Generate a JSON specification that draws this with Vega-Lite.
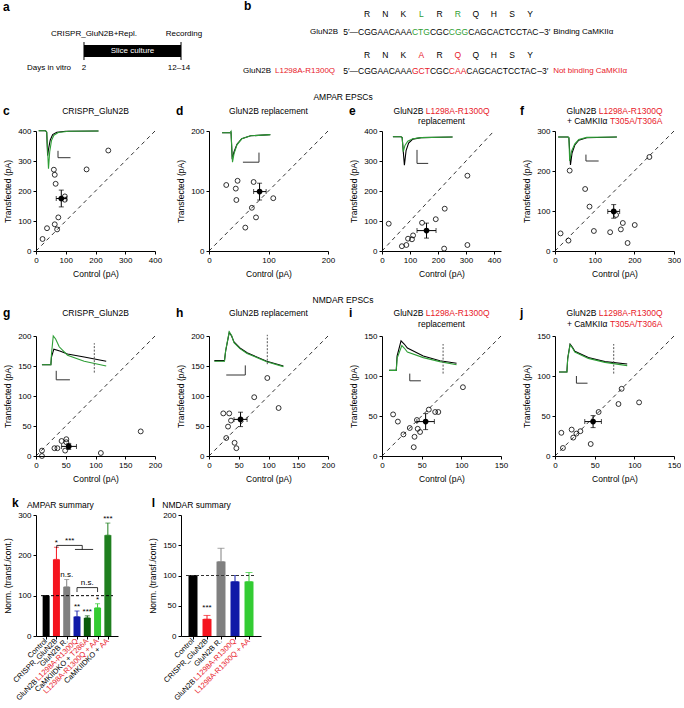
{
"$schema": "https://vega.github.io/schema/vega-lite/v6.json",
"autosize": {"type": "pad"},
"padding": {"left": 2, "top": 0, "right": 0, "bottom": 0},
"columns": 4,
"align": "each",
"bounds": "flush",
"spacing": {"row": 59, "column": 54},
"resolve": {"scale": {"color": "independent"}},
"config": {
  "font": "Liberation Sans",
  "view": {"stroke": null},
  "axis": {"grid": false, "domainColor": "#000", "tickColor": "#000", "labelColor": "#000", "titleColor": "#000", "labelFontSize": 8, "titleFontSize": 8.5, "titleFontWeight": "normal", "tickSize": 3, "labelPadding": 2, "labelFlush": false, "labelOverlap": false, "domainWidth": 1, "tickWidth": 1},
  "axisX": {"titlePadding": 5},
  "axisY": {"titlePadding": 5}
},
"datasets": {
  "c_pts": [{"x":22,"y":40},{"x":37,"y":76},{"x":60,"y":271},{"x":63,"y":254},{"x":66,"y":224},{"x":63,"y":89},{"x":71,"y":72},{"x":75,"y":112},{"x":97,"y":182},{"x":97,"y":171},{"x":170,"y":272},{"x":243,"y":335}],
  "c_tr": [{"s":"c","x":9,"y":401},{"s":"c","x":32,"y":401},{"s":"c","x":36,"y":396},{"s":"c","x":39,"y":318},{"s":"c","x":43,"y":345},{"s":"c","x":48,"y":370},{"s":"c","x":56,"y":388},{"s":"c","x":70,"y":396},{"s":"c","x":100,"y":399},{"s":"c","x":210,"y":400},{"s":"t","x":9,"y":401},{"s":"t","x":32,"y":401},{"s":"t","x":36,"y":396},{"s":"t","x":42,"y":274},{"s":"t","x":46,"y":330},{"s":"t","x":52,"y":368},{"s":"t","x":60,"y":386},{"s":"t","x":75,"y":395},{"s":"t","x":110,"y":399},{"s":"t","x":210,"y":400}],
  "c_sb": [{"o":0,"x":74,"y":334},{"o":1,"x":74,"y":311},{"o":2,"x":116,"y":311}],
  "d_pts": [{"x":29,"y":110},{"x":48,"y":117},{"x":45,"y":104},{"x":75,"y":115},{"x":46,"y":85},{"x":72,"y":72},{"x":79,"y":56},{"x":61,"y":39},{"x":108,"y":88}],
  "d_tr": [{"s":"c","x":22,"y":197},{"s":"c","x":36,"y":197},{"s":"c","x":37,"y":199},{"s":"c","x":39,"y":153},{"s":"c","x":42,"y":165},{"s":"c","x":47,"y":178},{"s":"c","x":55,"y":187},{"s":"c","x":70,"y":192},{"s":"c","x":103,"y":194},{"s":"t","x":22,"y":197},{"s":"t","x":36,"y":197},{"s":"t","x":37,"y":199},{"s":"t","x":39.5,"y":148},{"s":"t","x":42,"y":162},{"s":"t","x":47,"y":177},{"s":"t","x":55,"y":187},{"s":"t","x":70,"y":192},{"s":"t","x":103,"y":194}],
  "d_sb": [{"o":0,"x":57,"y":148},{"o":1,"x":84,"y":148},{"o":2,"x":84,"y":164}],
  "e_pts": [{"x":24,"y":91},{"x":71,"y":16},{"x":87,"y":20},{"x":93,"y":41},{"x":107,"y":39},{"x":111,"y":52},{"x":143,"y":94},{"x":192,"y":106},{"x":224,"y":141},{"x":222,"y":8},{"x":305,"y":20},{"x":305,"y":251}],
  "e_tr": [{"s":"c","x":39,"y":381},{"s":"c","x":68,"y":381},{"s":"c","x":72,"y":378},{"s":"c","x":80,"y":286},{"s":"c","x":86,"y":335},{"s":"c","x":95,"y":360},{"s":"c","x":110,"y":373},{"s":"c","x":140,"y":378},{"s":"c","x":252,"y":380},{"s":"t","x":39,"y":381},{"s":"t","x":68,"y":381},{"s":"t","x":72,"y":378},{"s":"t","x":76,"y":331},{"s":"t","x":82,"y":352},{"s":"t","x":92,"y":366},{"s":"t","x":110,"y":374},{"s":"t","x":140,"y":378},{"s":"t","x":252,"y":380}],
  "e_sb": [{"o":0,"x":125,"y":337},{"o":1,"x":125,"y":292},{"o":2,"x":165,"y":292}],
  "f_pts": [{"x":14,"y":44},{"x":37,"y":201},{"x":34,"y":26},{"x":76,"y":155},{"x":87,"y":111},{"x":98,"y":50},{"x":139,"y":47},{"x":154,"y":90},{"x":166,"y":54},{"x":171,"y":70},{"x":183,"y":20},{"x":201,"y":65},{"x":238,"y":235}],
  "f_tr": [{"s":"c","x":8,"y":285},{"s":"c","x":33,"y":285},{"s":"c","x":35,"y":283},{"s":"c","x":39,"y":215},{"s":"c","x":43,"y":245},{"s":"c","x":50,"y":265},{"s":"c","x":60,"y":277},{"s":"c","x":80,"y":283},{"s":"c","x":156,"y":285},{"s":"t","x":8,"y":285},{"s":"t","x":33,"y":285},{"s":"t","x":35,"y":283},{"s":"t","x":37,"y":225},{"s":"t","x":42,"y":250},{"s":"t","x":50,"y":268},{"s":"t","x":60,"y":279},{"s":"t","x":80,"y":284},{"s":"t","x":156,"y":285}],
  "f_sb": [{"o":0,"x":78,"y":241},{"o":1,"x":78,"y":225},{"o":2,"x":110,"y":225}],
  "g_pts": [{"x":10,"y":0},{"x":10,"y":9},{"x":31,"y":13},{"x":36,"y":13},{"x":43,"y":25},{"x":51,"y":28},{"x":51,"y":23},{"x":49,"y":9},{"x":109,"y":5},{"x":176,"y":41}],
  "g_tr": [{"s":"c","x":10,"y":152},{"s":"c","x":25,"y":152},{"s":"c","x":26,"y":165},{"s":"c","x":30,"y":178},{"s":"c","x":40,"y":175},{"s":"c","x":53,"y":170},{"s":"c","x":81,"y":165},{"s":"c","x":118,"y":158},{"s":"t","x":10,"y":152},{"s":"t","x":25,"y":152},{"s":"t","x":26,"y":170},{"s":"t","x":29,"y":200},{"s":"t","x":33,"y":195},{"s":"t","x":39,"y":182},{"s":"t","x":53,"y":168},{"s":"t","x":81,"y":158},{"s":"t","x":118,"y":150}],
  "g_sb": [{"o":0,"x":34,"y":142},{"o":1,"x":34,"y":127},{"o":2,"x":57,"y":127}],
  "h_pts": [{"x":24,"y":71},{"x":34,"y":71},{"x":37,"y":59},{"x":32,"y":49},{"x":29,"y":30},{"x":43,"y":22},{"x":46,"y":13},{"x":76,"y":98},{"x":98,"y":130},{"x":117,"y":80}],
  "h_tr": [{"s":"c","x":9,"y":159},{"s":"c","x":26,"y":159},{"s":"c","x":28,"y":175},{"s":"c","x":34,"y":206},{"s":"c","x":38,"y":200},{"s":"c","x":42,"y":190},{"s":"c","x":52,"y":180},{"s":"c","x":64,"y":172},{"s":"c","x":97,"y":158},{"s":"c","x":125,"y":150},{"s":"t","x":9,"y":158},{"s":"t","x":26,"y":158},{"s":"t","x":28,"y":176},{"s":"t","x":34,"y":207},{"s":"t","x":38,"y":201},{"s":"t","x":42,"y":189},{"s":"t","x":52,"y":179},{"s":"t","x":64,"y":171},{"s":"t","x":97,"y":157},{"s":"t","x":125,"y":149}],
  "h_sb": [{"o":0,"x":29,"y":135},{"o":1,"x":61,"y":135},{"o":2,"x":61,"y":151}],
  "i_pts": [{"x":14,"y":52},{"x":20,"y":43},{"x":35,"y":35},{"x":27,"y":27},{"x":44,"y":45},{"x":45,"y":34},{"x":48,"y":30},{"x":41,"y":24},{"x":40,"y":11},{"x":59,"y":58},{"x":67,"y":55},{"x":71,"y":55},{"x":102,"y":86}],
  "i_tr": [{"s":"c","x":9,"y":107},{"s":"c","x":18,"y":107},{"s":"c","x":19,"y":125},{"s":"c","x":24,"y":144},{"s":"c","x":28,"y":140},{"s":"c","x":32,"y":135},{"s":"c","x":52,"y":125},{"s":"c","x":73,"y":119},{"s":"c","x":94,"y":116},{"s":"t","x":9,"y":107},{"s":"t","x":18,"y":107},{"s":"t","x":19,"y":122},{"s":"t","x":25,"y":138},{"s":"t","x":28,"y":135},{"s":"t","x":32,"y":130},{"s":"t","x":52,"y":123},{"s":"t","x":73,"y":118},{"s":"t","x":94,"y":114}],
  "i_sb": [{"o":0,"x":35,"y":103},{"o":1,"x":35,"y":94},{"o":2,"x":49,"y":94}],
  "j_pts": [{"x":8,"y":29},{"x":10,"y":10},{"x":21,"y":33},{"x":23,"y":23},{"x":27,"y":28},{"x":32,"y":31},{"x":45,"y":15},{"x":55,"y":55},{"x":84,"y":84},{"x":80,"y":65},{"x":106,"y":67}],
  "j_tr": [{"s":"c","x":5,"y":105},{"s":"c","x":15,"y":105},{"s":"c","x":16,"y":122},{"s":"c","x":19,"y":140},{"s":"c","x":22,"y":136},{"s":"c","x":25,"y":131},{"s":"c","x":42,"y":123},{"s":"c","x":63,"y":118},{"s":"c","x":91,"y":115},{"s":"t","x":5,"y":105},{"s":"t","x":15,"y":105},{"s":"t","x":16,"y":121},{"s":"t","x":19,"y":139},{"s":"t","x":22,"y":135},{"s":"t","x":25,"y":130},{"s":"t","x":42,"y":122},{"s":"t","x":63,"y":117},{"s":"t","x":91,"y":113}],
  "j_sb": [{"o":0,"x":27,"y":100},{"o":1,"x":27,"y":91},{"o":2,"x":41,"y":91}],
  "k_bars": [{"i":1,"v":100,"hi":100,"g":"ctrl"},{"i":2,"v":190,"hi":220,"g":"crispr"},{"i":3,"v":122,"hi":140,"g":"repl"},{"i":4,"v":48,"hi":62,"g":"mut"},{"i":5,"v":45,"hi":50,"g":"dko_t"},{"i":6,"v":70,"hi":80,"g":"mut_aa"},{"i":7,"v":250,"hi":280,"g":"dko_aa"}],
  "k_stars": [{"i":2,"v":222,"t":"*"},{"i":3,"v":143,"t":"n.s."},{"i":4,"v":64,"t":"**"},{"i":5,"v":52,"t":"***"},{"i":6,"v":82,"t":"*"},{"i":7,"v":283,"t":"***"},{"i":3.29,"v":227,"t":"***"},{"i":5.0,"v":123,"t":"n.s."}],
  "k_brk": [{"seg":"a","o":0,"i":2.03,"v":218},{"seg":"a","o":1,"i":2.03,"v":224.6},{"seg":"a","o":2,"i":4.51,"v":224.6},{"seg":"a","o":3,"i":4.51,"v":214.6},{"seg":"b","o":0,"i":3.8,"v":214.6},{"seg":"b","o":1,"i":5.57,"v":214.6},{"seg":"c","o":0,"i":4.0,"v":109},{"seg":"c","o":1,"i":4.0,"v":120},{"seg":"c","o":2,"i":6.0,"v":120},{"seg":"c","o":3,"i":6.0,"v":109}],
  "l_bars": [{"i":1,"v":100,"hi":100,"g":"ctrl"},{"i":2,"v":28,"hi":34,"g":"crispr"},{"i":3,"v":123,"hi":145,"g":"repl"},{"i":4,"v":90,"hi":100,"g":"mut"},{"i":5,"v":90,"hi":105,"g":"mut_aa"}],
  "b_aa": [{"i":1.5,"y":1.56,"t":"R"},{"i":4.5,"y":1.56,"t":"N"},{"i":7.5,"y":1.56,"t":"K"},{"i":10.5,"y":1.56,"t":"L","c":"g"},{"i":13.5,"y":1.56,"t":"R"},{"i":16.5,"y":1.56,"t":"R","c":"g"},{"i":19.5,"y":1.56,"t":"Q"},{"i":22.5,"y":1.56,"t":"H"},{"i":25.5,"y":1.56,"t":"S"},{"i":28.5,"y":1.56,"t":"Y"},{"i":1.5,"y":6.11,"t":"R"},{"i":4.5,"y":6.11,"t":"N"},{"i":7.5,"y":6.11,"t":"K"},{"i":10.5,"y":6.11,"t":"A","c":"r"},{"i":13.5,"y":6.11,"t":"R"},{"i":16.5,"y":6.11,"t":"Q","c":"r"},{"i":19.5,"y":6.11,"t":"Q"},{"i":22.5,"y":6.11,"t":"H"},{"i":25.5,"y":6.11,"t":"S"},{"i":28.5,"y":6.11,"t":"Y"}],
  "b_seq": [{"i":0,"y":3.56,"t":"CGGAACAAA"},{"i":8.93,"y":3.56,"t":"CTG","c":"g"},{"i":11.905,"y":3.56,"t":"CGC"},{"i":15.037,"y":3.56,"t":"CGG","c":"g"},{"i":18.248,"y":3.56,"t":"CAGCACTCCTAC"},{"i":29.994,"y":3.56,"t":"–3′"},{"i":0,"y":7.89,"t":"CGGAACAAA"},{"i":8.93,"y":7.89,"t":"GCT","c":"r"},{"i":11.905,"y":7.89,"t":"CGC"},{"i":15.037,"y":7.89,"t":"CAA","c":"r"},{"i":17.935,"y":7.89,"t":"CAGCACTCCTAC"},{"i":29.68,"y":7.89,"t":"–3′"}]
},
"concat": [
  {
    "width": 119, "height": 72,
    "encoding": {
      "x": {"field": "x", "type": "quantitative", "scale": {"domain": [-3.442, 10.05], "nice": false, "zero": false}, "axis": null},
      "y": {"field": "y", "type": "quantitative", "scale": {"domain": [0, 8], "reverse": true, "nice": false, "zero": false}, "axis": null}
    },
    "layer": [
      {"data": {"values": [{"x": 2, "x2": 13, "y": 5.0, "y2": 6.33}]}, "mark": {"type": "rect", "color": "#000"}, "encoding": {"x2": {"field": "x2"}, "y2": {"field": "y2"}}},
      {"data": {"values": [{"x": 2, "y": 4.67, "y2": 6.67}, {"x": 13, "y": 4.67, "y2": 6.67}]}, "mark": {"type": "rule", "color": "#000", "strokeWidth": 1}, "encoding": {"y2": {"field": "y2"}}},
      {"data": {"values": [{"x": 3.13, "y": 3.78, "t": "CRISPR_GluN2B+Repl."}, {"x": 13.34, "y": 3.78, "t": "Recording"}, {"x": 2, "y": 7.56, "t": "2"}, {"x": 12.77, "y": 7.56, "t": "12–14"}]}, "mark": {"type": "text", "align": "center", "baseline": "middle", "fontSize": 8, "color": "#000"}, "encoding": {"text": {"field": "t"}}},
      {"data": {"values": [{"x": 0.53, "y": 7.56, "t": "Days in vitro"}]}, "mark": {"type": "text", "align": "right", "baseline": "middle", "fontSize": 8, "color": "#000"}, "encoding": {"text": {"field": "t"}}},
      {"data": {"values": [{"x": 7.5, "y": 5.67, "t": "Slice culture"}]}, "mark": {"type": "text", "align": "center", "baseline": "middle", "fontSize": 8, "color": "#ffffff"}, "encoding": {"text": {"field": "t"}}},
      {"data": {"values": [{"x": -7.18, "y": 0.78, "t": "a"}]}, "mark": {"type": "text", "align": "left", "baseline": "middle", "fontSize": 12, "fontWeight": "bold", "color": "#000"}, "encoding": {"text": {"field": "t"}}}
    ]
  },
  {
    "width": 119, "height": 72,
    "encoding": {
      "x": {"field": "i", "type": "quantitative", "scale": {"domain": [-24.67, -4.97], "nice": false, "zero": false}, "axis": null},
      "y": {"field": "y", "type": "quantitative", "scale": {"domain": [0, 8], "reverse": true, "nice": false, "zero": false}, "axis": null},
      "text": {"field": "t"},
      "color": {"condition": [{"test": "datum.c === 'r'", "value": "#e8202a"}, {"test": "datum.c === 'g'", "value": "#2f9e33"}], "value": "#000000"}
    },
    "layer": [
      {"data": {"name": "b_aa"}, "mark": {"type": "text", "align": "center", "baseline": "middle", "fontSize": 8.5}},
      {"data": {"name": "b_seq"}, "mark": {"type": "text", "align": "left", "baseline": "middle", "fontSize": 8.5}},
      {"data": {"values": [{"i": 0, "y": 3.56, "t": "5′—"}, {"i": 0, "y": 7.89, "t": "5′—"}]}, "mark": {"type": "text", "align": "right", "baseline": "middle", "fontSize": 8.5}},
      {"data": {"values": [{"i": -3.31, "y": 3.56, "t": "GluN2B"}, {"i": -14.4, "y": 7.89, "t": "GluN2B"}]}, "mark": {"type": "text", "align": "right", "baseline": "middle", "fontSize": 8}},
      {"data": {"values": [{"i": -13.74, "y": 7.89, "t": "L1298A-R1300Q", "c": "r"}, {"i": 32.3, "y": 3.56, "t": "Binding CaMKIIα"}, {"i": 32.3, "y": 7.89, "t": "Not binding CaMKIIα", "c": "r"}]}, "mark": {"type": "text", "align": "left", "baseline": "middle", "fontSize": 8}},
      {"data": {"values": [{"i": -18.87, "y": 0.67, "t": "b"}]}, "mark": {"type": "text", "align": "left", "baseline": "middle", "fontSize": 12, "fontWeight": "bold"}}
    ]
  },
  {"width": 1, "height": 72, "data": {"values": []}, "mark": "point"},
  {"width": 1, "height": 72, "data": {"values": []}, "mark": "point"},
  {
    "width": 119, "height": 120,
    "encoding": {
      "x": {"field": "x", "type": "quantitative", "scale": {"domain": [0, 400], "nice": false, "zero": false}, "axis": {"values": [0, 100, 200, 300, 400], "title": "Control (pA)"}},
      "y": {"field": "y", "type": "quantitative", "scale": {"domain": [0, 400], "nice": false, "zero": false}, "axis": {"values": [0, 100, 200, 300, 400], "title": "Transfected (pA)"}}
    },
    "layer": [
      {"data": {"values": [{"x": 0, "y": 0}, {"x": 400, "y": 400}]}, "mark": {"type": "line", "color": "#000", "strokeWidth": 0.8, "strokeDash": [4, 3.5]}},
      {"data": {"name": "c_tr"}, "mark": {"type": "line", "strokeWidth": 1.1}, "encoding": {"color": {"field": "s", "type": "nominal", "scale": {"domain": ["c", "t"], "range": ["#000000", "#2e9e36"]}, "legend": null}}},
      {"data": {"name": "c_sb"}, "mark": {"type": "line", "color": "#333", "strokeWidth": 1}, "encoding": {"order": {"field": "o", "type": "quantitative"}}},
      {"data": {"name": "c_pts"}, "mark": {"type": "point", "shape": "circle", "filled": false, "color": "#000", "size": 24, "strokeWidth": 0.8, "opacity": 1}},
      {"data": {"values": [{"x": 68, "x2": 102, "y": 175}]}, "mark": {"type": "errorbar", "ticks": true, "size": 5, "thickness": 1, "color": "#000"}, "encoding": {"x2": {"field": "x2"}}},
      {"data": {"values": [{"x": 85, "y": 147, "y2": 203}]}, "mark": {"type": "errorbar", "ticks": true, "size": 5, "thickness": 1, "color": "#000"}, "encoding": {"y2": {"field": "y2"}}},
      {"data": {"values": [{"x": 85, "y": 175}]}, "mark": {"type": "point", "shape": "circle", "filled": true, "color": "#000", "size": 32, "opacity": 1}},
      {"data": {"values": [{"x": -110.9, "y": 466.7, "t": "c"}]}, "mark": {"type": "text", "align": "left", "baseline": "middle", "fontSize": 12, "fontWeight": "bold"}, "encoding": {"text": {"field": "t"}}},
      {"data": {"values": [{"x": 200, "y": 466.7, "t": "CRISPR_GluN2B"}]}, "mark": {"type": "text", "align": "center", "baseline": "middle", "fontSize": 8.5}, "encoding": {"text": {"field": "t"}}}
    ]
  },
  {
    "width": 119, "height": 120,
    "encoding": {
      "x": {"field": "x", "type": "quantitative", "scale": {"domain": [0, 200], "nice": false, "zero": false}, "axis": {"values": [0, 100, 200], "title": "Control (pA)"}},
      "y": {"field": "y", "type": "quantitative", "scale": {"domain": [0, 200], "nice": false, "zero": false}, "axis": {"values": [0, 100, 200], "title": "Transfected (pA)"}}
    },
    "layer": [
      {"data": {"values": [{"x": 0, "y": 0}, {"x": 200, "y": 200}]}, "mark": {"type": "line", "color": "#000", "strokeWidth": 0.8, "strokeDash": [4, 3.5]}},
      {"data": {"name": "d_tr"}, "mark": {"type": "line", "strokeWidth": 1.1}, "encoding": {"color": {"field": "s", "type": "nominal", "scale": {"domain": ["c", "t"], "range": ["#000000", "#2e9e36"]}, "legend": null}}},
      {"data": {"name": "d_sb"}, "mark": {"type": "line", "color": "#333", "strokeWidth": 1}, "encoding": {"order": {"field": "o", "type": "quantitative"}}},
      {"data": {"name": "d_pts"}, "mark": {"type": "point", "shape": "circle", "filled": false, "color": "#000", "size": 24, "strokeWidth": 0.8, "opacity": 1}},
      {"data": {"values": [{"x": 75, "x2": 96, "y": 99}]}, "mark": {"type": "errorbar", "ticks": true, "size": 5, "thickness": 1, "color": "#000"}, "encoding": {"x2": {"field": "x2"}}},
      {"data": {"values": [{"x": 85, "y": 85, "y2": 113}]}, "mark": {"type": "errorbar", "ticks": true, "size": 5, "thickness": 1, "color": "#000"}, "encoding": {"y2": {"field": "y2"}}},
      {"data": {"values": [{"x": 85, "y": 99}]}, "mark": {"type": "point", "shape": "circle", "filled": true, "color": "#000", "size": 32, "opacity": 1}},
      {"data": {"values": [{"x": -55.5, "y": 233.3, "t": "d"}]}, "mark": {"type": "text", "align": "left", "baseline": "middle", "fontSize": 12, "fontWeight": "bold"}, "encoding": {"text": {"field": "t"}}},
      {"data": {"values": [{"x": 100, "y": 233.3, "t": "GluN2B replacement"}, {"x": 225.3, "y": 256.7, "t": "AMPAR EPSCs"}]}, "mark": {"type": "text", "align": "center", "baseline": "middle", "fontSize": 8.5}, "encoding": {"text": {"field": "t"}}}
    ]
  },
  {
    "width": 119, "height": 120,
    "encoding": {
      "x": {"field": "x", "type": "quantitative", "scale": {"domain": [0, 425], "nice": false, "zero": false}, "axis": {"values": [0, 100, 200, 300, 400], "title": "Control (pA)"}},
      "y": {"field": "y", "type": "quantitative", "scale": {"domain": [0, 400], "nice": false, "zero": false}, "axis": {"values": [0, 100, 200, 300, 400], "title": "Transfected (pA)"}}
    },
    "layer": [
      {"data": {"values": [{"x": 0, "y": 0}, {"x": 400, "y": 400}]}, "mark": {"type": "line", "color": "#000", "strokeWidth": 0.8, "strokeDash": [4, 3.5]}},
      {"data": {"name": "e_tr"}, "mark": {"type": "line", "strokeWidth": 1.1}, "encoding": {"color": {"field": "s", "type": "nominal", "scale": {"domain": ["c", "t"], "range": ["#000000", "#2e9e36"]}, "legend": null}}},
      {"data": {"name": "e_sb"}, "mark": {"type": "line", "color": "#333", "strokeWidth": 1}, "encoding": {"order": {"field": "o", "type": "quantitative"}}},
      {"data": {"name": "e_pts"}, "mark": {"type": "point", "shape": "circle", "filled": false, "color": "#000", "size": 24, "strokeWidth": 0.8, "opacity": 1}},
      {"data": {"values": [{"x": 125, "x2": 193, "y": 68}]}, "mark": {"type": "errorbar", "ticks": true, "size": 5, "thickness": 1, "color": "#000"}, "encoding": {"x2": {"field": "x2"}}},
      {"data": {"values": [{"x": 159, "y": 43, "y2": 93}]}, "mark": {"type": "errorbar", "ticks": true, "size": 5, "thickness": 1, "color": "#000"}, "encoding": {"y2": {"field": "y2"}}},
      {"data": {"values": [{"x": 159, "y": 68}]}, "mark": {"type": "point", "shape": "circle", "filled": true, "color": "#000", "size": 32, "opacity": 1}},
      {"data": {"values": [{"x": -117.9, "y": 466.7, "t": "e"}]}, "mark": {"type": "text", "align": "left", "baseline": "middle", "fontSize": 12, "fontWeight": "bold"}, "encoding": {"text": {"field": "t"}}},
      {"data": {"values": [{"x": 156.1, "y": 466.7, "t": "GluN2B"}]}, "mark": {"type": "text", "align": "right", "baseline": "middle", "fontSize": 8.5, "dx": -2.4}, "encoding": {"text": {"field": "t"}}},
      {"data": {"values": [{"x": 156.1, "y": 466.7, "t": "L1298A-R1300Q"}]}, "mark": {"type": "text", "align": "left", "baseline": "middle", "fontSize": 8.5, "color": "#e8202a"}, "encoding": {"text": {"field": "t"}}},
      {"data": {"values": [{"x": 212.5, "y": 433.3, "t": "replacement"}]}, "mark": {"type": "text", "align": "center", "baseline": "middle", "fontSize": 8.5}, "encoding": {"text": {"field": "t"}}}
    ]
  },
  {
    "width": 119, "height": 120,
    "encoding": {
      "x": {"field": "x", "type": "quantitative", "scale": {"domain": [0, 300], "nice": false, "zero": false}, "axis": {"values": [0, 100, 200, 300], "title": "Control (pA)"}},
      "y": {"field": "y", "type": "quantitative", "scale": {"domain": [0, 300], "nice": false, "zero": false}, "axis": {"values": [0, 100, 200, 300], "title": "Transfected (pA)"}}
    },
    "layer": [
      {"data": {"values": [{"x": 0, "y": 0}, {"x": 300, "y": 300}]}, "mark": {"type": "line", "color": "#000", "strokeWidth": 0.8, "strokeDash": [4, 3.5]}},
      {"data": {"name": "f_tr"}, "mark": {"type": "line", "strokeWidth": 1.1}, "encoding": {"color": {"field": "s", "type": "nominal", "scale": {"domain": ["c", "t"], "range": ["#000000", "#2e9e36"]}, "legend": null}}},
      {"data": {"name": "f_sb"}, "mark": {"type": "line", "color": "#333", "strokeWidth": 1}, "encoding": {"order": {"field": "o", "type": "quantitative"}}},
      {"data": {"name": "f_pts"}, "mark": {"type": "point", "shape": "circle", "filled": false, "color": "#000", "size": 24, "strokeWidth": 0.8, "opacity": 1}},
      {"data": {"values": [{"x": 133, "x2": 163, "y": 99}]}, "mark": {"type": "errorbar", "ticks": true, "size": 5, "thickness": 1, "color": "#000"}, "encoding": {"x2": {"field": "x2"}}},
      {"data": {"values": [{"x": 148, "y": 82, "y2": 116}]}, "mark": {"type": "errorbar", "ticks": true, "size": 5, "thickness": 1, "color": "#000"}, "encoding": {"y2": {"field": "y2"}}},
      {"data": {"values": [{"x": 148, "y": 99}]}, "mark": {"type": "point", "shape": "circle", "filled": true, "color": "#000", "size": 32, "opacity": 1}},
      {"data": {"values": [{"x": -88.2, "y": 350, "t": "f"}]}, "mark": {"type": "text", "align": "left", "baseline": "middle", "fontSize": 12, "fontWeight": "bold"}, "encoding": {"text": {"field": "t"}}},
      {"data": {"values": [{"x": 110.2, "y": 350, "t": "GluN2B"}, {"x": 138.4, "y": 325, "t": "+ CaMKIIα"}]}, "mark": {"type": "text", "align": "right", "baseline": "middle", "fontSize": 8.5, "dx": -2.4}, "encoding": {"text": {"field": "t"}}},
      {"data": {"values": [{"x": 110.2, "y": 350, "t": "L1298A-R1300Q"}, {"x": 138.4, "y": 325, "t": "T305A/T306A"}]}, "mark": {"type": "text", "align": "left", "baseline": "middle", "fontSize": 8.5, "color": "#e8202a"}, "encoding": {"text": {"field": "t"}}}
    ]
  },
  {
    "width": 119, "height": 146,
    "encoding": {
      "x": {"field": "x", "type": "quantitative", "scale": {"domain": [0, 200], "nice": false, "zero": false}, "axis": {"values": [0, 50, 100, 150, 200], "title": "Control (pA)"}},
      "y": {"field": "y", "type": "quantitative", "scale": {"domain": [0, 200], "range": [146, 26], "nice": false, "zero": false}, "axis": {"values": [0, 50, 100, 150, 200], "title": "Transfected (pA)"}}
    },
    "layer": [
      {"data": {"values": [{"x": 0, "y": 0}, {"x": 200, "y": 200}]}, "mark": {"type": "line", "color": "#000", "strokeWidth": 0.8, "strokeDash": [4, 3.5]}},
      {"data": {"name": "g_tr"}, "mark": {"type": "line", "strokeWidth": 1.1}, "encoding": {"color": {"field": "s", "type": "nominal", "scale": {"domain": ["c", "t"], "range": ["#000000", "#2e9e36"]}, "legend": null}}},
      {"data": {"name": "g_sb"}, "mark": {"type": "line", "color": "#333", "strokeWidth": 1}, "encoding": {"order": {"field": "o", "type": "quantitative"}}},
      {"data": {"values": [{"x": 98, "y": 139, "y2": 188}]}, "mark": {"type": "rule", "color": "#555", "strokeWidth": 1, "strokeDash": [2, 1.5]}, "encoding": {"y2": {"field": "y2"}}},
      {"data": {"name": "g_pts"}, "mark": {"type": "point", "shape": "circle", "filled": false, "color": "#000", "size": 24, "strokeWidth": 0.8, "opacity": 1}},
      {"data": {"values": [{"x": 43, "x2": 68, "y": 16}]}, "mark": {"type": "errorbar", "ticks": true, "size": 5, "thickness": 1, "color": "#000"}, "encoding": {"x2": {"field": "x2"}}},
      {"data": {"values": [{"x": 55, "y": 11, "y2": 21}]}, "mark": {"type": "errorbar", "ticks": true, "size": 5, "thickness": 1, "color": "#000"}, "encoding": {"y2": {"field": "y2"}}},
      {"data": {"values": [{"x": 55, "y": 16}]}, "mark": {"type": "point", "shape": "circle", "filled": true, "color": "#000", "size": 32, "opacity": 1}},
      {"data": {"values": [{"x": -55.5, "y": 238.3, "t": "g"}]}, "mark": {"type": "text", "align": "left", "baseline": "middle", "fontSize": 12, "fontWeight": "bold"}, "encoding": {"text": {"field": "t"}}},
      {"data": {"values": [{"x": 100, "y": 238.3, "t": "CRISPR_GluN2B"}]}, "mark": {"type": "text", "align": "center", "baseline": "middle", "fontSize": 8.5}, "encoding": {"text": {"field": "t"}}}
    ]
  },
  {
    "width": 119, "height": 146,
    "encoding": {
      "x": {"field": "x", "type": "quantitative", "scale": {"domain": [0, 200], "nice": false, "zero": false}, "axis": {"values": [0, 50, 100, 150, 200], "title": "Control (pA)"}},
      "y": {"field": "y", "type": "quantitative", "scale": {"domain": [0, 200], "range": [146, 26], "nice": false, "zero": false}, "axis": {"values": [0, 50, 100, 150, 200], "title": "Transfected (pA)"}}
    },
    "layer": [
      {"data": {"values": [{"x": 0, "y": 0}, {"x": 200, "y": 200}]}, "mark": {"type": "line", "color": "#000", "strokeWidth": 0.8, "strokeDash": [4, 3.5]}},
      {"data": {"name": "h_tr"}, "mark": {"type": "line", "strokeWidth": 1.1}, "encoding": {"color": {"field": "s", "type": "nominal", "scale": {"domain": ["c", "t"], "range": ["#000000", "#2e9e36"]}, "legend": null}}},
      {"data": {"name": "h_sb"}, "mark": {"type": "line", "color": "#333", "strokeWidth": 1}, "encoding": {"order": {"field": "o", "type": "quantitative"}}},
      {"data": {"values": [{"x": 98, "y": 153, "y2": 202}]}, "mark": {"type": "rule", "color": "#555", "strokeWidth": 1, "strokeDash": [2, 1.5]}, "encoding": {"y2": {"field": "y2"}}},
      {"data": {"name": "h_pts"}, "mark": {"type": "point", "shape": "circle", "filled": false, "color": "#000", "size": 24, "strokeWidth": 0.8, "opacity": 1}},
      {"data": {"values": [{"x": 42, "x2": 64, "y": 61}]}, "mark": {"type": "errorbar", "ticks": true, "size": 5, "thickness": 1, "color": "#000"}, "encoding": {"x2": {"field": "x2"}}},
      {"data": {"values": [{"x": 53, "y": 49, "y2": 73}]}, "mark": {"type": "errorbar", "ticks": true, "size": 5, "thickness": 1, "color": "#000"}, "encoding": {"y2": {"field": "y2"}}},
      {"data": {"values": [{"x": 53, "y": 61}]}, "mark": {"type": "point", "shape": "circle", "filled": true, "color": "#000", "size": 32, "opacity": 1}},
      {"data": {"values": [{"x": -55.5, "y": 238.3, "t": "h"}]}, "mark": {"type": "text", "align": "left", "baseline": "middle", "fontSize": 12, "fontWeight": "bold"}, "encoding": {"text": {"field": "t"}}},
      {"data": {"values": [{"x": 100, "y": 238.3, "t": "GluN2B replacement"}, {"x": 225.3, "y": 260, "t": "NMDAR EPSCs"}]}, "mark": {"type": "text", "align": "center", "baseline": "middle", "fontSize": 8.5}, "encoding": {"text": {"field": "t"}}}
    ]
  },
  {
    "width": 119, "height": 146,
    "encoding": {
      "x": {"field": "x", "type": "quantitative", "scale": {"domain": [0, 150], "nice": false, "zero": false}, "axis": {"values": [0, 50, 100, 150], "title": "Control (pA)"}},
      "y": {"field": "y", "type": "quantitative", "scale": {"domain": [0, 150], "range": [146, 26], "nice": false, "zero": false}, "axis": {"values": [0, 50, 100, 150], "title": "Transfected (pA)"}}
    },
    "layer": [
      {"data": {"values": [{"x": 0, "y": 0}, {"x": 150, "y": 150}]}, "mark": {"type": "line", "color": "#000", "strokeWidth": 0.8, "strokeDash": [4, 3.5]}},
      {"data": {"name": "i_tr"}, "mark": {"type": "line", "strokeWidth": 1.1}, "encoding": {"color": {"field": "s", "type": "nominal", "scale": {"domain": ["c", "t"], "range": ["#000000", "#2e9e36"]}, "legend": null}}},
      {"data": {"name": "i_sb"}, "mark": {"type": "line", "color": "#333", "strokeWidth": 1}, "encoding": {"order": {"field": "o", "type": "quantitative"}}},
      {"data": {"values": [{"x": 77, "y": 103, "y2": 140}]}, "mark": {"type": "rule", "color": "#555", "strokeWidth": 1, "strokeDash": [2, 1.5]}, "encoding": {"y2": {"field": "y2"}}},
      {"data": {"name": "i_pts"}, "mark": {"type": "point", "shape": "circle", "filled": false, "color": "#000", "size": 24, "strokeWidth": 0.8, "opacity": 1}},
      {"data": {"values": [{"x": 44, "x2": 66, "y": 43}]}, "mark": {"type": "errorbar", "ticks": true, "size": 5, "thickness": 1, "color": "#000"}, "encoding": {"x2": {"field": "x2"}}},
      {"data": {"values": [{"x": 55, "y": 33, "y2": 53}]}, "mark": {"type": "errorbar", "ticks": true, "size": 5, "thickness": 1, "color": "#000"}, "encoding": {"y2": {"field": "y2"}}},
      {"data": {"values": [{"x": 55, "y": 43}]}, "mark": {"type": "point", "shape": "circle", "filled": true, "color": "#000", "size": 32, "opacity": 1}},
      {"data": {"values": [{"x": -41.6, "y": 178.75, "t": "i"}]}, "mark": {"type": "text", "align": "left", "baseline": "middle", "fontSize": 12, "fontWeight": "bold"}, "encoding": {"text": {"field": "t"}}},
      {"data": {"values": [{"x": 55.1, "y": 178.75, "t": "GluN2B"}]}, "mark": {"type": "text", "align": "right", "baseline": "middle", "fontSize": 8.5, "dx": -2.4}, "encoding": {"text": {"field": "t"}}},
      {"data": {"values": [{"x": 55.1, "y": 178.75, "t": "L1298A-R1300Q"}]}, "mark": {"type": "text", "align": "left", "baseline": "middle", "fontSize": 8.5, "color": "#e8202a"}, "encoding": {"text": {"field": "t"}}},
      {"data": {"values": [{"x": 75, "y": 165, "t": "replacement"}]}, "mark": {"type": "text", "align": "center", "baseline": "middle", "fontSize": 8.5}, "encoding": {"text": {"field": "t"}}}
    ]
  },
  {
    "width": 119, "height": 146,
    "encoding": {
      "x": {"field": "x", "type": "quantitative", "scale": {"domain": [0, 150], "nice": false, "zero": false}, "axis": {"values": [0, 50, 100, 150], "title": "Control (pA)"}},
      "y": {"field": "y", "type": "quantitative", "scale": {"domain": [0, 150], "range": [146, 26], "nice": false, "zero": false}, "axis": {"values": [0, 50, 100, 150], "title": "Transfected (pA)"}}
    },
    "layer": [
      {"data": {"values": [{"x": 0, "y": 0}, {"x": 150, "y": 150}]}, "mark": {"type": "line", "color": "#000", "strokeWidth": 0.8, "strokeDash": [4, 3.5]}},
      {"data": {"name": "j_tr"}, "mark": {"type": "line", "strokeWidth": 1.1}, "encoding": {"color": {"field": "s", "type": "nominal", "scale": {"domain": ["c", "t"], "range": ["#000000", "#2e9e36"]}, "legend": null}}},
      {"data": {"name": "j_sb"}, "mark": {"type": "line", "color": "#333", "strokeWidth": 1}, "encoding": {"order": {"field": "o", "type": "quantitative"}}},
      {"data": {"values": [{"x": 74, "y": 103, "y2": 140}]}, "mark": {"type": "rule", "color": "#555", "strokeWidth": 1, "strokeDash": [2, 1.5]}, "encoding": {"y2": {"field": "y2"}}},
      {"data": {"name": "j_pts"}, "mark": {"type": "point", "shape": "circle", "filled": false, "color": "#000", "size": 24, "strokeWidth": 0.8, "opacity": 1}},
      {"data": {"values": [{"x": 37.5, "x2": 58.5, "y": 43}]}, "mark": {"type": "errorbar", "ticks": true, "size": 5, "thickness": 1, "color": "#000"}, "encoding": {"x2": {"field": "x2"}}},
      {"data": {"values": [{"x": 48, "y": 35.5, "y2": 50.5}]}, "mark": {"type": "errorbar", "ticks": true, "size": 5, "thickness": 1, "color": "#000"}, "encoding": {"y2": {"field": "y2"}}},
      {"data": {"values": [{"x": 48, "y": 43}]}, "mark": {"type": "point", "shape": "circle", "filled": true, "color": "#000", "size": 32, "opacity": 1}},
      {"data": {"values": [{"x": -44.1, "y": 178.75, "t": "j"}]}, "mark": {"type": "text", "align": "left", "baseline": "middle", "fontSize": 12, "fontWeight": "bold"}, "encoding": {"text": {"field": "t"}}},
      {"data": {"values": [{"x": 55.1, "y": 178.75, "t": "GluN2B"}, {"x": 69.2, "y": 165, "t": "+ CaMKIIα"}]}, "mark": {"type": "text", "align": "right", "baseline": "middle", "fontSize": 8.5, "dx": -2.4}, "encoding": {"text": {"field": "t"}}},
      {"data": {"values": [{"x": 55.1, "y": 178.75, "t": "L1298A-R1300Q"}, {"x": 69.2, "y": 165, "t": "T305A/T306A"}]}, "mark": {"type": "text", "align": "left", "baseline": "middle", "fontSize": 8.5, "color": "#e8202a"}, "encoding": {"text": {"field": "t"}}}
    ]
  },
  {
    "width": 82, "height": 121,
    "encoding": {
      "x": {"field": "i", "type": "quantitative", "scale": {"domain": [0.5, 7.5], "nice": false, "zero": false}, "axis": {"values": [1, 2, 3, 4, 5, 6, 7], "labels": false, "title": null}},
      "y": {"field": "v", "type": "quantitative", "scale": {"domain": [0, 300], "nice": false}, "axis": {"values": [0, 100, 200, 300], "title": "Norm. (transf./cont.)"}}
    },
    "layer": [
      {"data": {"name": "k_bars"}, "mark": {"type": "bar", "size": 7}, "encoding": {"color": {"field": "g", "type": "nominal", "scale": {"domain": ["ctrl", "crispr", "repl", "mut", "dko_t", "mut_aa", "dko_aa"], "range": ["#000000", "#f5141e", "#808080", "#101aa8", "#0a5a0a", "#33cc33", "#1f7f1f"]}, "legend": null}}},
      {"data": {"name": "k_bars"}, "mark": {"type": "errorbar", "ticks": true, "size": 5, "thickness": 1}, "encoding": {"y2": {"field": "hi"}, "color": {"field": "g", "type": "nominal", "legend": null}}},
      {"data": {"values": [{"i": 0.5, "i2": 7.5, "v": 100}]}, "mark": {"type": "rule", "color": "#000", "strokeWidth": 1, "strokeDash": [3, 2]}, "encoding": {"x2": {"field": "i2"}}},
      {"data": {"name": "k_stars"}, "mark": {"type": "text", "baseline": "alphabetic", "dy": -1, "fontSize": 8, "color": "#000"}, "encoding": {"text": {"field": "t"}}},
      {"data": {"name": "k_brk"}, "mark": {"type": "line", "color": "#000", "strokeWidth": 0.8}, "encoding": {"detail": {"field": "seg"}, "order": {"field": "o", "type": "quantitative"}}},
      {"data": {"values": [{"i": 1, "v": -10, "t": "Control", "c": "k"}, {"i": 2, "v": -10, "t": "CRISPR_GluN2B", "c": "k"}, {"i": 3, "v": -10, "t": "GluN2B R.", "c": "k"}, {"i": 4, "v": -10, "t": "L1298A-R1300Q", "c": "r"}, {"i": 5, "v": -10, "t": "T286A", "c": "r"}, {"i": 6, "v": -10, "t": "L1298A-R1300Q + AA", "c": "r"}, {"i": 7, "v": -10, "t": "AA", "c": "r"}]}, "mark": {"type": "text", "align": "right", "baseline": "middle", "angle": -45, "fontSize": 7.5}, "encoding": {"text": {"field": "t"}, "color": {"condition": {"test": "datum.c === 'r'", "value": "#e8202a"}, "value": "#000000"}}},
      {"data": {"values": [{"i": 4, "v": -10, "t": "GluN2B"}]}, "mark": {"type": "text", "align": "right", "baseline": "middle", "angle": -45, "fontSize": 7.5, "dx": -57.5, "color": "#000"}, "encoding": {"text": {"field": "t"}}},
      {"data": {"values": [{"i": 5, "v": -10, "t": "CaMKIIDKO +"}]}, "mark": {"type": "text", "align": "right", "baseline": "middle", "angle": -45, "fontSize": 7.5, "dx": -24.2, "color": "#000"}, "encoding": {"text": {"field": "t"}}},
      {"data": {"values": [{"i": 7, "v": -10, "t": "CaMKIIDKO +"}]}, "mark": {"type": "text", "align": "right", "baseline": "middle", "angle": -45, "fontSize": 7.5, "dx": -12.1, "color": "#000"}, "encoding": {"text": {"field": "t"}}},
      {"data": {"values": [{"i": -2.317, "v": 329.8, "t": "k"}]}, "mark": {"type": "text", "align": "left", "baseline": "middle", "fontSize": 12, "fontWeight": "bold", "color": "#000"}, "encoding": {"text": {"field": "t"}}},
      {"data": {"values": [{"i": 2.38, "v": 324.8, "t": "AMPAR summary"}]}, "mark": {"type": "text", "align": "center", "baseline": "middle", "fontSize": 8.5, "color": "#000"}, "encoding": {"text": {"field": "t"}}}
    ]
  },
  {
    "width": 52, "height": 121,
    "encoding": {
      "x": {"field": "i", "type": "quantitative", "scale": {"domain": [0.5, 5.5], "range": [-28, 52], "nice": false, "zero": false}, "axis": {"values": [1, 2, 3, 4, 5], "labels": false, "title": null}},
      "y": {"field": "v", "type": "quantitative", "scale": {"domain": [0, 200], "nice": false}, "axis": {"values": [0, 50, 100, 150, 200], "title": "Norm. (transf./cont.)", "offset": 28}}
    },
    "layer": [
      {"data": {"name": "l_bars"}, "mark": {"type": "bar", "size": 9}, "encoding": {"color": {"field": "g", "type": "nominal", "scale": {"domain": ["ctrl", "crispr", "repl", "mut", "mut_aa"], "range": ["#000000", "#f5141e", "#808080", "#101aa8", "#33cc33"]}, "legend": null}}},
      {"data": {"name": "l_bars"}, "mark": {"type": "errorbar", "ticks": true, "size": 7, "thickness": 1}, "encoding": {"y2": {"field": "hi"}, "color": {"field": "g", "type": "nominal", "legend": null}}},
      {"data": {"values": [{"i": 0.5, "i2": 5.5, "v": 100}]}, "mark": {"type": "rule", "color": "#333", "strokeWidth": 1, "strokeDash": [3, 2]}, "encoding": {"x2": {"field": "i2"}}},
      {"data": {"values": [{"i": 2, "v": 41, "t": "***"}]}, "mark": {"type": "text", "baseline": "alphabetic", "dy": -1, "fontSize": 8, "color": "#000"}, "encoding": {"text": {"field": "t"}}},
      {"data": {"values": [{"i": 1, "v": -6.6, "t": "Control", "c": "k"}, {"i": 2, "v": -6.6, "t": "CRISPR_GluN2B", "c": "k"}, {"i": 3, "v": -6.6, "t": "GluN2B R.", "c": "k"}, {"i": 4, "v": -6.6, "t": "L1298A-R1300Q", "c": "r"}, {"i": 5, "v": -6.6, "t": "L1298A-R1300Q + AA", "c": "r"}]}, "mark": {"type": "text", "align": "right", "baseline": "middle", "angle": -45, "fontSize": 7.5}, "encoding": {"text": {"field": "t"}, "color": {"condition": {"test": "datum.c === 'r'", "value": "#e8202a"}, "value": "#000000"}}},
      {"data": {"values": [{"i": 4, "v": -6.6, "t": "GluN2B"}]}, "mark": {"type": "text", "align": "right", "baseline": "middle", "angle": -45, "fontSize": 7.5, "dx": -57.5, "color": "#000"}, "encoding": {"text": {"field": "t"}}},
      {"data": {"values": [{"i": -1.94, "v": 219.8, "t": "l"}]}, "mark": {"type": "text", "align": "left", "baseline": "middle", "fontSize": 12, "fontWeight": "bold", "color": "#000"}, "encoding": {"text": {"field": "t"}}},
      {"data": {"values": [{"i": 1.25, "v": 216.5, "t": "NMDAR summary"}]}, "mark": {"type": "text", "align": "center", "baseline": "middle", "fontSize": 8.5, "color": "#000"}, "encoding": {"text": {"field": "t"}}}
    ]
  }
]
}
